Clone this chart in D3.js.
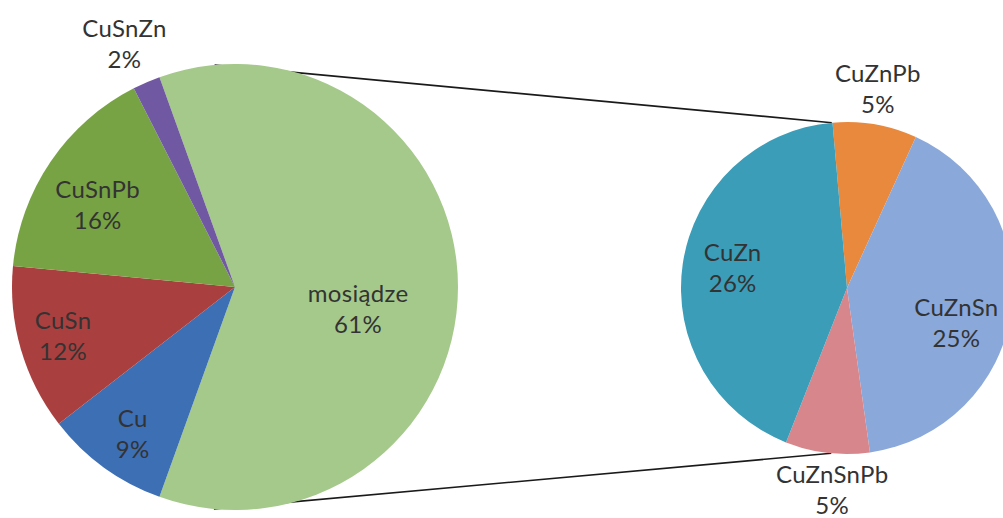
<!DOCTYPE html>
<html>
<head>
<meta charset="utf-8">
<script src="https://cdn.jsdelivr.net/npm/d3@7"></script>
<style>
  html, body { margin: 0; padding: 0; background: #ffffff; }
  svg { display: block; }
  text { font-family: Lato, "Open Sans", sans-serif; fill: #333333; }
</style>
</head>
<body>
<svg id="chart" width="1003" height="518"></svg>
<script>
// ---- data ----
const mainCategories = ["mosiądze", "Cu", "CuSn", "CuSnPb", "CuSnZn"];
const mainValues     = [61, 9, 12, 16, 2];
const subCategories  = ["CuZnPb", "CuZnSn", "CuZnSnPb", "CuZn"];
const subValues      = [5, 25, 5, 26];

// ---- styling / layout (not data) ----
const colors = {
  "mosiądze": "#a5c98b", "Cu": "#3d6fb5", "CuSn": "#a9403f", "CuSnPb": "#78a345",
  "CuSnZn": "#7058a2", "CuZnPb": "#e8893d", "CuZnSn": "#8aa8da",
  "CuZnSnPb": "#d7878b", "CuZn": "#3b9db8"
};
// label placement: [radius factor, angle offset in degrees]
const labelPlace = {
  "mosiądze": [0.56, 9.7], "Cu": [0.80, -1], "CuSn": [0.80, 0.7], "CuSnPb": [0.72, -3],
  "CuSnZn": [1.2, -1], "CuZnPb": [1.22, -1], "CuZnSn": [0.69, 9],
  "CuZnSnPb": [1.215, -2.6], "CuZn": [0.70, 2]
};
const grandTotal = d3.sum(mainValues);
const fmt = v => Math.round(v / grandTotal * 100) + "%";

const svg = d3.select("#chart");
const C1 = {x: 235, y: 287, r: 223};
const C2 = {x: 847, y: 288, r: 166};

// main pie: split slice (first) centred on the right side
const mainFrac = mainValues[0] / grandTotal;
const mainStart = Math.PI / 2 - mainFrac * Math.PI;
const pieMain = d3.pie().sort(null).startAngle(mainStart).endAngle(mainStart + 2 * Math.PI);
const subStart = -5 * Math.PI / 180;
const pieSub = d3.pie().sort(null).startAngle(subStart).endAngle(subStart + 2 * Math.PI);

function drawPie(cfg, cats, vals, pie) {
  const g = svg.append("g").attr("transform", `translate(${cfg.x},${cfg.y})`);
  const arc = d3.arc().innerRadius(0).outerRadius(cfg.r);
  const arcs = pie(vals).map((d, i) => Object.assign(d, {name: cats[i]}));
  g.selectAll("path").data(arcs).join("path")
    .attr("d", arc)
    .attr("fill", d => colors[d.name]);
  const lab = g.selectAll("text").data(arcs).join("text")
    .attr("text-anchor", "middle")
    .style("font-size", "24px")
    .style("letter-spacing", "0.3px")
    .attr("transform", d => {
      const p = labelPlace[d.name];
      const a = (d.startAngle + d.endAngle) / 2 + p[1] * Math.PI / 180;
      const rr = cfg.r * p[0];
      return `translate(${rr * Math.sin(a)},${-rr * Math.cos(a)})`;
    });
  lab.append("tspan").attr("x", 0).attr("y", -15.5).attr("dominant-baseline", "central").text(d => d.name);
  lab.append("tspan").attr("x", 0).attr("y", 15.5).attr("dominant-baseline", "central").text(d => fmt(d.value));
}

// connector lines: external common tangents of both circles
const dx = C2.x - C1.x, dy = C2.y - C1.y, D = Math.hypot(dx, dy);
const phi = Math.atan2(dy, dx);
const beta = Math.acos((C2.r - C1.r) / D);
[phi + beta, phi - beta].forEach(t => {
  const nx = Math.cos(t), ny = Math.sin(t);
  svg.append("line")
    .attr("x1", C1.x + C1.r * nx).attr("y1", C1.y + C1.r * ny)
    .attr("x2", C2.x + C2.r * nx).attr("y2", C2.y + C2.r * ny)
    .attr("stroke", "#1a1a1a").attr("stroke-width", 1.6);
});

drawPie(C1, mainCategories, mainValues, pieMain);
drawPie(C2, subCategories, subValues, pieSub);
</script>
</body>
</html>
